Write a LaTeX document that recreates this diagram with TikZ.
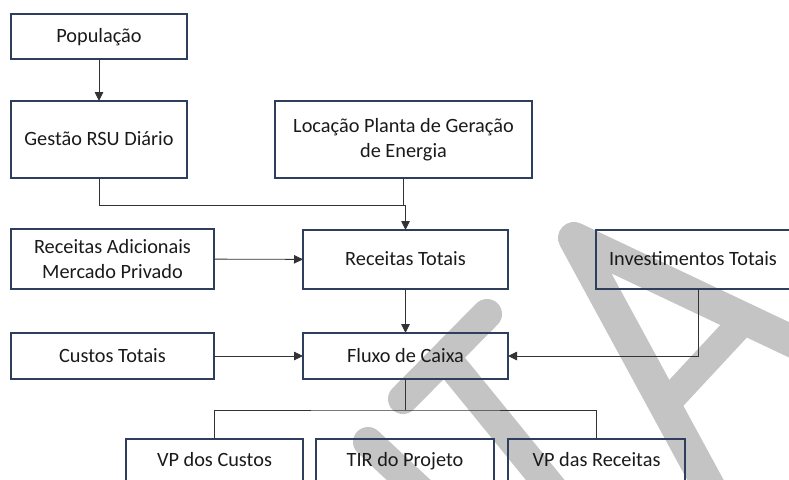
\documentclass[tikz,border=0pt]{standalone}
\usepackage{fontspec}
\setmainfont{Carlito}
\usetikzlibrary{arrows.meta,calc}
\definecolor{boxc}{HTML}{2F3E5C}
\definecolor{linec}{HTML}{333333}
\definecolor{wm}{HTML}{C4C4C4}
\definecolor{txt}{HTML}{1A1A1A}
\begin{document}
\begin{tikzpicture}[x=1pt,y=-1pt,
  box/.style={draw=boxc, line width=1.3pt, rectangle, inner sep=0pt, outer sep=0pt,
    align=center, text=txt, font=\fontsize{20.3}{24.4}\selectfont},
  one/.style={text height=14pt, text depth=1.5pt},
  conn/.style={draw=linec, line width=0.9pt},
  arr/.style={conn, -{Triangle[length=9pt,width=8.5pt]}},
  wmark/.style={draw=wm, line width=32pt, line cap=round, line join=round}]
\useasboundingbox (0,0) rectangle (789,479);
% watermark
\draw[wmark] (712,492) -- (574,238) -- (800,345);
\draw[draw=wm, line width=28pt] (665,405) -- (745,319);
\draw[wmark, line width=30pt] (487,314) -- (403,399);
\draw[draw=wm, line width=30pt] (445,357) -- (555,492);
\draw[wmark, line width=30pt] (368,442) -- (430,500);
% boxes
\node[box, one, minimum width=176pt, minimum height=45pt] (pop) at (99,36.5) {População};
\node[box, one, minimum width=176pt, minimum height=77pt] (ges) at (99,139.5) {Gestão RSU Diário};
\node[box, minimum width=257pt, minimum height=77pt] (loc) at (403.5,139.5) {Locação Planta de Geração\\de Energia};
\node[box, minimum width=203pt, minimum height=60pt] (rad) at (112.5,259) {Receitas Adicionais\\Mercado Privado};
\node[box, one, minimum width=205pt, minimum height=59pt] (rt) at (405.5,259.5) {Receitas Totais};
\node[box, one, minimum width=194pt, minimum height=59pt] (inv) at (693,259.5) {Investimentos Totais};
\node[box, one, minimum width=203pt, minimum height=46pt] (ct) at (112.5,356) {Custos Totais};
\node[box, one, minimum width=205pt, minimum height=46pt] (fc) at (405.5,356) {Fluxo de Caixa};
\node[box, one, minimum width=177pt, minimum height=43pt] (vpc) at (214.5,460.5) {VP dos Custos};
\node[box, one, minimum width=178pt, minimum height=43pt] (tir) at (405,460.5) {TIR do Projeto};
\node[box, one, minimum width=177pt, minimum height=43pt] (vpr) at (596.5,460.5) {VP das Receitas};
% connectors
\coordinate (j) at (405.5,205);
\coordinate (hb) at (405.5,410);
\draw[arr] (pop) -- (ges);
\draw[conn] (ges.south) |- (j);
\draw[conn] (loc.south) -- (loc.south |- j);
\draw[arr] (j) -- (rt.north);
\draw[arr] (rad) -- (rt);
\draw[arr] (rt) -- (fc);
\draw[arr] (ct) -- (fc);
\draw[arr] ([xshift=5pt]inv.south) |- (fc.east);
\draw[conn] (fc.south) -- (hb);
\draw[conn] (vpc.north) |- (hb) -| (vpr.north);
\end{tikzpicture}
\end{document}
